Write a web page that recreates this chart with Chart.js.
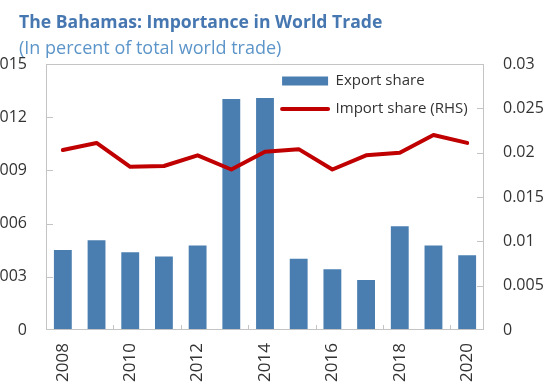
<!DOCTYPE html>
<html>
<head>
<meta charset="utf-8">
<title>The Bahamas: Importance in World Trade</title>
<script src="https://cdn.jsdelivr.net/npm/chart.js@4.4.1/dist/chart.umd.min.js"></script>
<style>
  html, body { margin: 0; padding: 0; background: #fff; overflow: hidden; }
  #wrap { position: relative; width: 550px; height: 383px; }
</style>
</head>
<body>
<div id="wrap"><canvas id="tradeChart" width="550" height="383"></canvas></div>
<script>
// share of world trade, percent
const years = ["2008", "2009", "2010", "2011", "2012", "2013", "2014", "2015", "2016", "2017", "2018", "2019", "2020"];
const exportShare = [0.00451, 0.00506, 0.00438, 0.00414, 0.00476, 0.01303, 0.01308, 0.00402, 0.00342, 0.00282, 0.00585, 0.00476, 0.00421];
const importShare = [0.0203, 0.0211, 0.0184, 0.0185, 0.0197, 0.0181, 0.0201, 0.0204, 0.0181, 0.0197, 0.0200, 0.0220, 0.0211];

const leftTicks = [0, 0.003, 0.006, 0.009, 0.012, 0.015];
const rightTicks = [0, 0.005, 0.01, 0.015, 0.02, 0.025, 0.03];

const FONT = "'Open Sans', 'Noto Sans', sans-serif";
const BLUE = "#4a7eb1";
const RED = "#c00000";
const FRAME = "#c4c4c4";
const TEXT = "#333333";
const TITLE_INDENT = 19;

// box round the plot plus short inward ticks on all three axes
const frameTicks = {
  id: "frameTicks",
  afterDatasetsDraw(chart) {
    const { ctx, chartArea: a, scales } = chart;
    ctx.save();
    ctx.strokeStyle = FRAME;
    ctx.lineWidth = 1;
    ctx.strokeRect(Math.round(a.left) + 0.5, Math.round(a.top) + 0.5, Math.round(a.width) - 1, Math.round(a.height) - 1);
    ctx.beginPath();
    leftTicks.slice(1, -1).forEach(v => {
      const y = Math.round(scales.y.getPixelForValue(v)) + 0.5;
      ctx.moveTo(a.left, y);
      ctx.lineTo(a.left + 7, y);
    });
    rightTicks.slice(1, -1).forEach(v => {
      const y = Math.round(scales.y1.getPixelForValue(v)) + 0.5;
      ctx.moveTo(a.right, y);
      ctx.lineTo(a.right - 7, y);
    });
    for (let i = 2; i < years.length; i += 2) {
      const x = Math.round((scales.x.getPixelForValue(i - 1) + scales.x.getPixelForValue(i)) / 2) + 0.5;
      ctx.moveTo(x, a.bottom);
      ctx.lineTo(x, a.bottom - 5);
    }
    ctx.stroke();
    ctx.restore();
  }
};

// legend inside the plot (upper right), titles indented from the left edge
const placeBlocks = {
  id: "placeBlocks",
  afterLayout(chart) {
    const a = chart.chartArea;
    const lg = chart.legend;
    const pad = lg.options.labels.padding;
    lg.left = a.left + a.width * 0.539 - pad;
    lg.top = a.top - 3.5;
    lg.right = a.right;
    lg.bottom = a.bottom;
    lg.width = lg.right - lg.left;
    lg.height = lg.bottom - lg.top;

    chart.boxes.forEach(b => {
      if (b.options && typeof b.options.text === "string") b.left = TITLE_INDENT;
    });
  }
};

new Chart(document.getElementById("tradeChart"), {
  type: "bar",
  data: {
    labels: years,
    datasets: [
      {
        type: "bar",
        label: "Export share",
        data: exportShare,
        backgroundColor: BLUE,
        barPercentage: 0.53,
        categoryPercentage: 1,
        yAxisID: "y",
        order: 1
      },
      {
        type: "line",
        label: "Import share (RHS)",
        data: importShare,
        borderColor: RED,
        borderWidth: 4,
        borderJoinStyle: "round",
        borderCapStyle: "round",
        pointRadius: 0,
        tension: 0,
        yAxisID: "y1",
        order: 0
      }
    ]
  },
  options: {
    responsive: false,
    animation: false,
    layout: { padding: 0 },
    plugins: {
      title: {
        display: true,
        text: "The Bahamas: Importance in World Trade",
        align: "start",
        color: "#4677b0",
        font: { family: FONT, size: 17.6, weight: "bold" },
        padding: { top: 12, bottom: 5 }
      },
      subtitle: {
        display: true,
        text: "(In percent of total world trade)",
        align: "start",
        color: "#5c95c9",
        font: { family: FONT, size: 18 },
        padding: { top: 0, bottom: 4.3 }
      },
      legend: {
        position: "chartArea",
        align: "start",
        labels: {
          usePointStyle: true,
          pointStyleWidth: 46,
          boxHeight: 9,
          padding: 13,
          color: TEXT,
          font: { family: FONT, size: 15 },
          generateLabels: chart => chart.data.datasets.map((ds, i) => {
            const isLine = ds.type === "line";
            return {
              text: ds.label,
              datasetIndex: i,
              fillStyle: isLine ? RED : BLUE,
              strokeStyle: isLine ? RED : BLUE,
              lineWidth: isLine ? 4 : 0,
              lineCap: "round",
              pointStyle: isLine ? "line" : "rect",
              fontColor: TEXT,
              hidden: false
            };
          })
        }
      },
      tooltip: { enabled: false }
    },
    scales: {
      x: {
        grid: { display: false, drawTicks: false },
        border: { display: false },
        ticks: {
          autoSkip: false,
          minRotation: 90,
          maxRotation: 90,
          padding: 13,
          color: TEXT,
          font: { family: FONT, size: 17 },
          callback: (v, i) => (i % 2 === 0 ? years[i] : "")
        },
        afterFit: s => { s.height = 53; }
      },
      y: {
        position: "left",
        min: 0,
        max: 0.015,
        grid: { display: false, drawTicks: false },
        border: { display: false },
        afterBuildTicks: s => { s.ticks = leftTicks.map(v => ({ value: v })); },
        ticks: {
          padding: 19,
          color: TEXT,
          font: { family: FONT, size: 16 },
          callback: v => String(v)
        },
        afterFit: s => { s.width = 46; }
      },
      y1: {
        position: "right",
        min: 0,
        max: 0.03,
        grid: { display: false, drawTicks: false },
        border: { display: false },
        afterBuildTicks: s => { s.ticks = rightTicks.map(v => ({ value: v })); },
        ticks: {
          padding: 19,
          color: TEXT,
          font: { family: FONT, size: 16 },
          callback: v => String(v)
        },
        afterFit: s => { s.width = 66; }
      }
    }
  },
  plugins: [frameTicks, placeBlocks]
});
</script>
</body>
</html>
